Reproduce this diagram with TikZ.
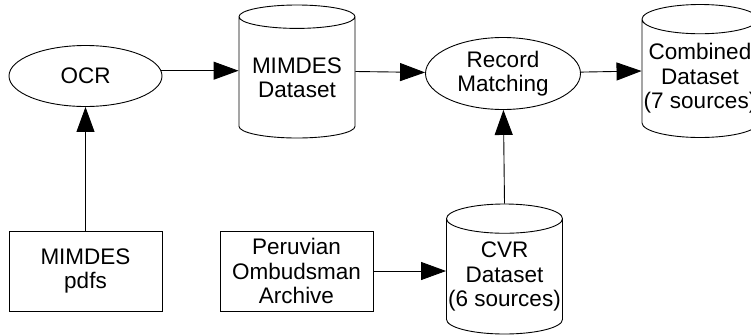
\documentclass[tikz,border=0pt]{standalone}
\usepackage{fontspec}
\setmainfont{Liberation Sans}
\usetikzlibrary{arrows.meta,shapes.geometric,positioning}

\begin{document}
\begin{tikzpicture}[->,>={Triangle[length=25pt,width=18pt]},x=1pt,y=-1pt,
line width=0.9pt,font=\fontsize{22.5}{24.5}\selectfont]
\tikzstyle{process}=[ellipse,draw,align=center,minimum width=153pt,minimum height=61pt,inner sep=0pt]
\tikzstyle{data}=[cylinder,shape border rotate=90,draw,aspect=0.26,align=center,minimum width=116pt,minimum height=133pt,inner sep=0pt,anchor=shape center]
\tikzstyle{source}=[rectangle,draw,align=center,minimum width=153pt,minimum height=80pt,inner sep=0pt]

\path[use as bounding box,clip] (0,0) rectangle (751,335);

\node[process]  (ocr)      at (85.5,76)   {OCR};
\node[data]     (mimdes)   at (297,71.5)  {MIMDES\\Dataset};
\node[process,minimum width=155pt,minimum height=72pt]
                (matching) at (503,73.5)  {Record\\Matching};
\node[data]     (combined) at (700,71)    {Combined\\Dataset\\(7 sources)};
\node[source]   (pdfs)     at (85.5,271)  {MIMDES\\pdfs};
\node[source]   (peru)     at (296.5,271) {Peruvian\\Ombudsman\\Archive};
\node[data,minimum height=130pt]
                (cvr)      at (504.5,269) {CVR\\Dataset\\(6 sources)};

\path
(pdfs)   edge (ocr)
(ocr.4)  edge (ocr.4 -| mimdes.west)
(mimdes.east |- mimdes.shape center) edge (matching)
(matching) edge (combined.west |- combined.shape center)
(peru)   edge (peru -| cvr.west)
(cvr.north) edge (matching);
\end{tikzpicture}
\end{document}
